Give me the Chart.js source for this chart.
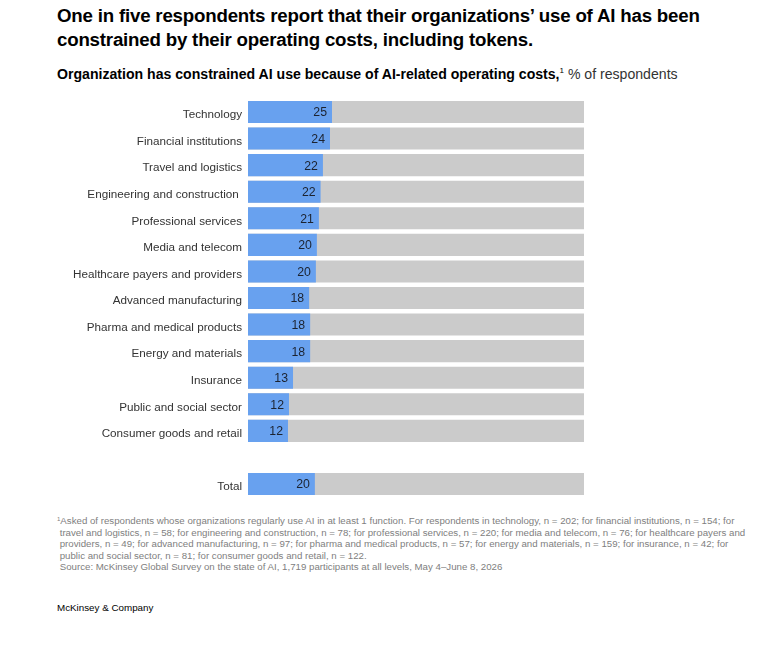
<!DOCTYPE html>
<html>
<head>
<meta charset="utf-8">
<script src="https://cdn.jsdelivr.net/npm/chart.js@4"></script>
<style>
  body { margin: 0; background: #fff; font-family: "Liberation Sans", Arial, sans-serif; }
  #page { position: relative; width: 770px; height: 645px; overflow: hidden; }
  .title { position: absolute; left: 57px; top: 4px; font-size: 18.7px; font-weight: bold; line-height: 23.5px; color: #000; letter-spacing: -0.2px; }
  .subtitle { position: absolute; left: 57px; top: 66px; font-size: 14.1px; color: #000; }
  .subtitle b { font-weight: bold; }
  .subtitle sup { font-size: 8px; }
  .subtitle .unit { color: #333; }
  #wrap { position: absolute; left: 0; top: 90px; width: 600px; height: 415px; }
  .notes { position: absolute; left: 57px; top: 515px; font-size: 9.7px; line-height: 11.6px; color: #808080; }
  .notes sup { font-size: 6px; vertical-align: 3px; line-height: 0; }
  .brand { position: absolute; left: 57px; top: 602px; font-size: 9.8px; color: #000; }
</style>
</head>
<body>
<div id="page">
  <div class="title">One in five respondents report that their organizations’ use of AI has been<br>constrained by their operating costs, including tokens.</div>
  <div class="subtitle"><b>Organization has constrained AI use because of AI-related operating costs,</b><sup>1</sup> <span class="unit">% of respondents</span></div>
  <div id="wrap"><canvas id="chart"></canvas></div>
  <div class="notes">
    <sup>1</sup>Asked of respondents whose organizations regularly use AI in at least 1 function. For respondents in technology, n = 202; for financial institutions, n = 154; for<br>
    &nbsp;travel and logistics, n = 58; for engineering and construction, n = 78; for professional services, n = 220; for media and telecom, n = 76; for healthcare payers and<br>
    &nbsp;providers, n = 49; for advanced manufacturing, n = 97; for pharma and medical products, n = 57; for energy and materials, n = 159; for insurance, n = 42; for<br>
    &nbsp;public and social sector, n = 81; for consumer goods and retail, n = 122.<br>
    &nbsp;Source: McKinsey Global Survey on the state of AI, 1,719 participants at all levels, May 4–June 8, 2026
  </div>
  <div class="brand">McKinsey &amp; Company</div>
</div>
<script>
  // categories (blank one is the gap before Total)
  const industries = [
    "Technology", "Financial institutions", "Travel and logistics", "Engineering and construction ",
    "Professional services", "Media and telecom", "Healthcare payers and providers",
    "Advanced manufacturing", "Pharma and medical products", "Energy and materials",
    "Insurance", "Public and social sector", "Consumer goods and retail", "", "Total"
  ];
  // share constrained, % (bar lengths)
  const constrained = [25, 24.4, 22.3, 21.6, 21.1, 20.5, 20.2, 18.2, 18.5, 18.5, 13.4, 12.2, 11.9, null, 19.9];
  // printed labels
  const shownValues = ["25", "24", "22", "22", "21", "20", "20", "18", "18", "18", "13", "12", "12", "", "20"];
  // full-scale track behind each bar
  const track = [100, 100, 100, 100, 100, 100, 100, 100, 100, 100, 100, 100, 100, null, 100];

  const BLUE = "#68a1ef";
  const GRAY = "#cbcbcb";

  const valueLabels = {
    id: "valueLabels",
    afterDatasetsDraw(chart) {
      const ctx = chart.ctx;
      const meta = chart.getDatasetMeta(0);
      ctx.save();
      ctx.font = "12.3px 'Liberation Sans', Arial, sans-serif";
      ctx.fillStyle = "#1c2330";
      ctx.textAlign = "right";
      ctx.textBaseline = "middle";
      meta.data.forEach((bar, i) => {
        if (!shownValues[i]) return;
        ctx.fillText(shownValues[i], bar.x - 5, bar.y + 1);
      });
      ctx.restore();
    }
  };

  new Chart(document.getElementById("chart"), {
    type: "bar",
    data: {
      labels: industries,
      datasets: [
        { data: constrained, backgroundColor: BLUE, order: 0, grouped: false,
          categoryPercentage: 0.83, barPercentage: 1 },
        { data: track, backgroundColor: GRAY, order: 1, grouped: false,
          categoryPercentage: 0.83, barPercentage: 1 }
      ]
    },
    options: {
      indexAxis: "y",
      responsive: true,
      maintainAspectRatio: false,
      animation: false,
      layout: { padding: { top: 8.7, bottom: 7.7, right: 16, left: 0 } },
      plugins: { legend: { display: false }, tooltip: { enabled: false } },
      scales: {
        x: { display: false, min: 0, max: 100 },
        y: {
          grid: { display: false, drawTicks: false, tickLength: 0 },
          border: { display: false },
          afterFit(scale) {
            scale.width = 248;
            scale.paddingTop = 0;
            scale.paddingBottom = 0;
          },
          ticks: {
            color: "#333",
            padding: 6,
            labelOffset: 3,
            font: { family: "'Liberation Sans', Arial, sans-serif", size: 11.7 }
          }
        }
      }
    },
    plugins: [valueLabels]
  });
</script>
</body>
</html>
